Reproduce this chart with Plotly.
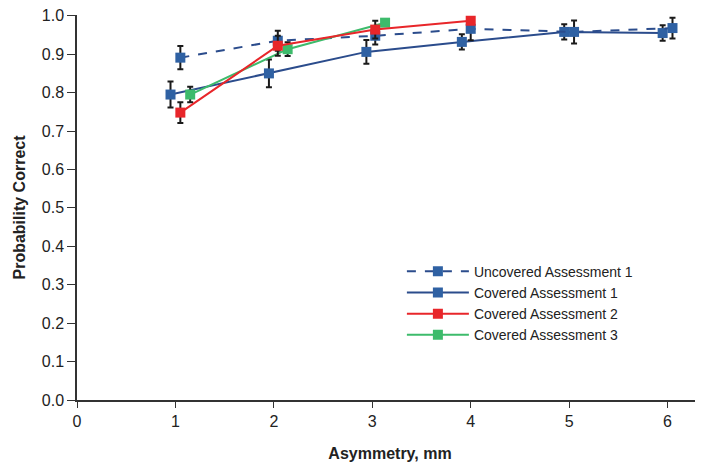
import plotly.graph_objects as go

asym = [1, 2, 3, 4, 5, 6]

unc1_x = [1.05, 2.04, 3.03, 4.0, 5.05, 6.05]
unc1_y = [0.891, 0.935, 0.948, 0.966, 0.958, 0.968]
unc1_err = [0.030, 0.026, 0.023, 0.030, 0.030, 0.027]

cov1_x = [0.95, 1.95, 2.94, 3.91, 4.95, 5.95]
cov1_y = [0.795, 0.850, 0.906, 0.932, 0.958, 0.955]
cov1_err = [0.034, 0.036, 0.031, 0.020, 0.020, 0.020]

cov2_x = [1.05, 2.04, 3.03, 4.0]
cov2_y = [0.748, 0.922, 0.964, 0.987]
cov2_err = [0.027, 0.026, 0.023, 0.0]

cov3_x = [1.15, 2.14, 3.13]
cov3_y = [0.795, 0.913, 0.982]
cov3_err = [0.020, 0.018, 0.0]

y_ticks = [0.0, 0.1, 0.2, 0.3, 0.4, 0.5, 0.6, 0.7, 0.8, 0.9, 1.0]
x_ticks = [0, 1, 2, 3, 4, 5, 6]

BLUE_LINE = "#2b4c8c"
BLUE_MK = "#2f61a3"
RED = "#e8262a"
GREEN = "#3dbb6b"

def trace(x, y, err, name, lcolor, mcolor, dash, rank):
    return go.Scatter(
        x=x, y=y, name=name, mode="lines+markers",
        line=dict(color=lcolor, width=2, dash=dash),
        marker=dict(symbol="square", size=10, color=mcolor),
        error_y=dict(type="data", array=err, visible=True, color="#1a1a1a",
                     thickness=2, width=3),
        legendrank=rank,
    )

fig = go.Figure()
fig.add_trace(trace(cov1_x, cov1_y, cov1_err, "Covered Assessment 1", BLUE_LINE, BLUE_MK, "solid", 2))
fig.add_trace(trace(unc1_x, unc1_y, unc1_err, "Uncovered Assessment 1", BLUE_LINE, BLUE_MK, "dash", 1))
fig.add_trace(trace(cov3_x, cov3_y, cov3_err, "Covered Assessment 3", GREEN, GREEN, "solid", 4))
fig.add_trace(trace(cov2_x, cov2_y, cov2_err, "Covered Assessment 2", RED, RED, "solid", 3))

fig.update_layout(
    width=695, height=456,
    margin=dict(l=69, r=0, t=7, b=64),
    paper_bgcolor="white", plot_bgcolor="white",
    font=dict(family="Liberation Sans, Arial, sans-serif", color="#222", size=16),
    xaxis=dict(range=[0, 6.36], tickvals=x_ticks, ticktext=[str(v) for v in x_ticks],
               showgrid=False, zeroline=False, showline=True, linecolor="#333",
               linewidth=1.5, ticks="outside", ticklen=6, tickcolor="#333",
               title=dict(text="<b>Asymmetry, mm</b>", font=dict(size=16), standoff=19)),
    yaxis=dict(range=[0, 1.002], tickvals=y_ticks, ticktext=[f"{v:.1f}" for v in y_ticks],
               showgrid=False, zeroline=False, showline=True, linecolor="#333",
               linewidth=1.5, ticks="outside", ticklen=8, tickcolor="#333",
               ticklabeloverflow="allow",
               title=dict(text="<b>Probability Correct</b>", font=dict(size=16), standoff=12)),
    legend=dict(x=0.519, y=0.375, xanchor="left", yanchor="top",
                bgcolor="rgba(0,0,0,0)", font=dict(size=14), tracegroupgap=0,
                itemwidth=62),
    showlegend=True,
)

fig.write_html("out.html")
